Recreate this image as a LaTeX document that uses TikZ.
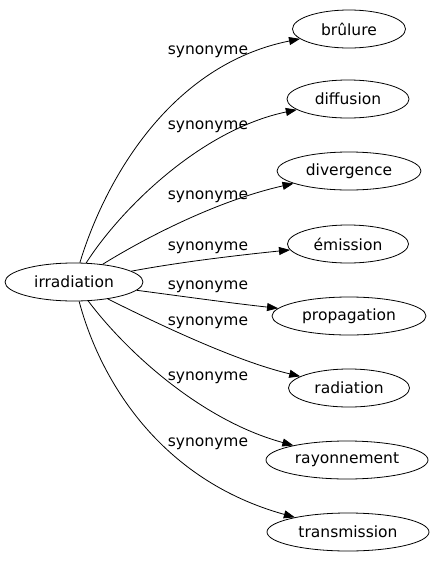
\documentclass[tikz,border=0pt]{standalone}
\usepackage{fontspec}
\setmainfont{DejaVu Sans}
\usetikzlibrary{arrows.meta,shapes.geometric}
\begin{document}
\begin{tikzpicture}[x=1pt,y=-1pt,line width=0.8pt,
  every node/.style={font=\fontsize{15.5}{18}\selectfont},
  term/.style={draw,ellipse,inner sep=0pt,minimum height=38pt},
  edge/.style={draw,-{Triangle[length=11pt,width=8pt]}},
  lbl/.style={inner sep=0pt}]
\useasboundingbox (0,0) rectangle (436,563);
\node[term,minimum width=138pt] (irr) at (74,282) {irradiation};
\node[term,minimum width=113pt] (b1) at (349,29) {brûlure};
\node[term,minimum width=122pt] (b2) at (348,99) {diffusion};
\node[term,minimum width=144pt] (b3) at (349,171) {divergence};
\node[term,minimum width=121pt] (b4) at (348,244) {émission};
\node[term,minimum width=154pt] (b5) at (349,316) {propagation};
\node[term,minimum width=121pt] (b6) at (349,388) {radiation};
\node[term,minimum width=162pt] (b7) at (347,460) {rayonnement};
\node[term,minimum width=162pt] (b8) at (348,532) {transmission};
\draw[edge] (irr) .. controls (105,180) and (170,65) .. (b1);
\draw[edge] (irr) .. controls (120,210) and (200,130) .. (b2);
\draw[edge] (irr) .. controls (150,235) and (220,200) .. (b3);
\draw[edge] (irr) .. controls (180,262) and (240,255) .. (b4);
\draw[edge] (irr) .. controls (180,296) and (230,303) .. (b5);
\draw[edge] (irr) .. controls (170,330) and (240,362) .. (b6);
\draw[edge] (irr) .. controls (125,350) and (200,420) .. (b7);
\draw[edge] (irr) .. controls (100,380) and (160,480) .. (b8);
\node[lbl] (l1) at (208,52) {synonyme};
\node[lbl] (l2) at (208,127) {synonyme};
\node[lbl] (l3) at (208,197) {synonyme};
\node[lbl] (l4) at (208,248) {synonyme};
\node[lbl] (l5) at (208,287) {synonyme};
\node[lbl] (l6) at (208,323) {synonyme};
\node[lbl] (l7) at (208,378) {synonyme};
\node[lbl] (l8) at (208,444) {synonyme};
\end{tikzpicture}
\end{document}
